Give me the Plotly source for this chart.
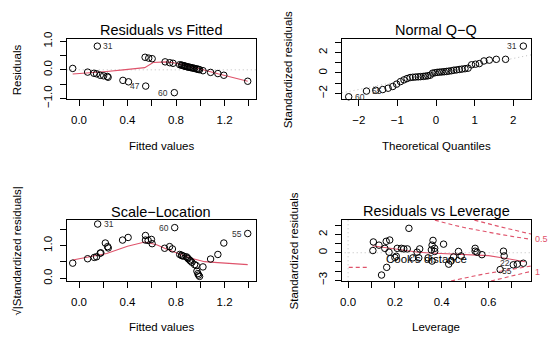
import plotly.graph_objects as go

# ---------------- data ----------------
# Panel 1: Residuals vs Fitted
fitted = [-0.052, 0.071, 0.123, 0.145, 0.175, 0.203, 0.233, 0.240, 0.362, 0.408, 0.550, 0.786,
          0.151, 0.545, 0.575, 0.603, 0.710, 0.748, 0.775,
          0.830, 0.845, 0.852, 0.862, 0.870, 0.876, 0.885, 0.893, 0.900, 0.912, 0.920, 0.931,
          0.942, 0.953, 0.967, 0.975, 0.986, 0.994, 1.022,
          1.085, 1.145, 1.194, 1.391]
residuals = [0.05, -0.08, -0.12, -0.14, -0.19, -0.21, -0.23, -0.26, -0.37, -0.42, -0.57, -0.80,
             0.83, 0.44, 0.41, 0.39, 0.28, 0.25, 0.23,
             0.18, 0.165, 0.155, 0.145, 0.135, 0.125, 0.115, 0.105, 0.10, 0.09, 0.08, 0.07,
             0.06, 0.05, 0.035, 0.025, 0.015, 0.005, -0.03,
             -0.09, -0.13, -0.19, -0.40]
rf_smooth_x = [-0.052, 0.09, 0.228, 0.364, 0.542, 0.611, 0.72, 0.80, 0.90, 1.00, 1.145, 1.391]
rf_smooth_y = [-0.144, -0.111, -0.056, 0.0, 0.078, 0.256, 0.278, 0.23, 0.14, 0.03, -0.14, -0.40]
rf_labels = [("31", 0.151, 0.83, "left"), ("47", 0.550, -0.57, "right"), ("60", 0.786, -0.80, "right")]

# Panel 2: Normal Q-Q
qq_theoretical = [-2.26, -1.80, -1.56, -1.38, -1.24, -1.12, -1.02, -0.92, -0.83, -0.75,
                  -0.67, -0.60, -0.53, -0.46, -0.40, -0.33, -0.27, -0.21, -0.15, -0.09,
                  -0.03, 0.03, 0.09, 0.15, 0.21, 0.27, 0.33, 0.40, 0.46, 0.53,
                  0.60, 0.67, 0.75, 0.83, 0.92, 1.02, 1.12, 1.24, 1.38, 1.56, 1.80, 2.26]
qq_std_resid = [-2.34, -1.78, -1.70, -1.63, -1.50, -1.33, -1.10, -0.85, -0.68, -0.55,
                -0.45, -0.42, -0.40, -0.38, -0.36, -0.34, -0.31, -0.28, -0.22, -0.02,
                0.02, 0.06, 0.08, 0.10, 0.12, 0.15, 0.18, 0.22, 0.27, 0.30,
                0.34, 0.38, 0.42, 0.47, 0.80, 0.86, 0.92, 1.18, 1.26, 1.34, 1.34, 2.64]
qq_line_x = [-2.44, 2.46]
qq_line_y = [-1.96, 1.78]
qq_labels = [("60", -2.26, -2.34, "left"), ("55", -1.80, -1.78, "left"), ("31", 2.26, 2.64, "right")]

# Panel 3: Scale-Location
sl_fitted = [-0.052, 0.071, 0.126, 0.145, 0.154, 0.175, 0.180, 0.217, 0.236, 0.241,
             0.359, 0.405, 0.548, 0.548, 0.570, 0.597, 0.603, 0.706, 0.747, 0.770, 0.789,
             0.830, 0.845, 0.850, 0.862, 0.885, 0.893, 0.900, 0.912, 0.920, 0.931,
             0.953, 0.967, 0.972, 0.980, 0.986, 0.994, 1.022, 1.085, 1.145, 1.194, 1.391]
sl_sqrt_std = [0.465, 0.60, 0.64, 0.66, 1.66, 0.77, 0.78, 1.08, 0.97, 0.93,
               1.17, 1.25, 1.31, 1.17, 1.16, 1.19, 1.06, 0.92, 0.97, 0.90, 1.55,
               0.73, 0.71, 0.69, 0.68, 0.66, 0.63, 0.60, 0.56, 0.53, 0.49,
               0.42, 0.39, 0.22, 0.145, 0.10, 0.06, 0.35, 0.59, 0.73, 1.08, 1.37]
sl_smooth_x = [-0.052, 0.228, 0.40, 0.542, 0.64, 0.72, 0.91, 1.035, 1.145, 1.391]
sl_smooth_y = [0.56, 0.76, 0.98, 1.11, 1.03, 0.90, 0.63, 0.51, 0.48, 0.42]
sl_labels = [("31", 0.154, 1.66, "left"), ("60", 0.789, 1.55, "right"), ("55", 1.391, 1.37, "right")]

# Panel 4: Residuals vs Leverage
leverage = [0.108, 0.106, 0.132, 0.163, 0.178, 0.157, 0.175, 0.143, 0.200, 0.206,
            0.210, 0.228, 0.238, 0.253, 0.260, 0.277, 0.295, 0.302, 0.306, 0.342,
            0.356, 0.359, 0.363, 0.359, 0.370, 0.370, 0.408, 0.430, 0.440, 0.451,
            0.472, 0.483, 0.543, 0.543, 0.551, 0.572, 0.664, 0.667, 0.650, 0.706,
            0.723, 0.749, 0.165]
lev_std_resid = [1.18, 0.24, 0.83, 1.25, 1.39, 0.48, 0.06, -2.44, -0.52, -0.39,
                 0.48, 0.48, 0.42, 0.42, 2.67, -0.56, 0.06, -0.56, 0.42, -0.56,
                 0.31, 0.83, 1.35, -0.91, 0.14, 0.48, 0.94, -1.25, -0.91, -0.46,
                 0.14, -0.35, 0.48, 0.17, 0.06, -0.21, 0.17, -0.35, -1.84, -1.32,
                 -1.25, -1.15, -1.60]
lev_smooth_x = [0.104, 0.15, 0.20, 0.25, 0.30, 0.35, 0.416, 0.45, 0.543, 0.60, 0.65, 0.70, 0.756]
lev_smooth_y = [0.76, 0.60, 0.42, 0.22, 0.06, -0.03, -0.10, -0.12, -0.18, -0.32, -0.52, -0.74, -0.98]
cook05_h = [0.371, 0.40, 0.45, 0.50, 0.55, 0.60, 0.65, 0.70, 0.75, 0.782]
cook05_r = [3.57, 3.35, 3.03, 2.74, 2.48, 2.24, 2.01, 1.79, 1.58, 1.46]
cook1_h = [0.54, 0.55, 0.60, 0.65, 0.70, 0.75, 0.782]
cook1_r = [3.57, 3.50, 3.16, 2.84, 2.54, 2.24, 2.04]
cook_low05_h = [0.44, 0.45, 0.50, 0.55, 0.60, 0.65, 0.70, 0.75, 0.782]
cook_low05_r = [-3.09, -3.03, -2.74, -2.48, -2.24, -2.01, -1.79, -1.58, -1.46]
cook_low1_h = [0.611, 0.65, 0.70, 0.75, 0.782]
cook_low1_r = [-3.09, -2.84, -2.54, -2.24, -2.04]
lev_labels = [("22", 0.672, -1.12), ("55", 0.680, -1.98)]
cook_side_labels = [("0.5", 1.46), ("1", -2.06)]

# ---------------- styling / layout ----------------
W, H = 550, 348
FONT = "Liberation Sans, Arial, sans-serif"
RED = "#DF536B"
GRAY = "#BEBEBE"
MINUS = "\u2212"


def fx(p):
    return p / W


def fy(p):
    return 1 - p / H


fig = go.Figure()


def points(x, y, xa, ya):
    fig.add_trace(go.Scatter(x=x, y=y, mode="markers", xaxis=xa, yaxis=ya, showlegend=False,
                             hoverinfo="skip", cliponaxis=False,
                             marker=dict(symbol="circle-open", size=6.5, color="black",
                                         line=dict(width=1, color="black"))))


def line(x, y, xa, ya, color=RED, dash="solid", width=1.1):
    fig.add_trace(go.Scatter(x=x, y=y, mode="lines", xaxis=xa, yaxis=ya, showlegend=False,
                             hoverinfo="skip", line=dict(color=color, width=width, dash=dash)))


def lab(t, x, y, xa, ya, side, size=8.5, color="#333333"):
    fig.add_annotation(x=x, y=y, xref=xa, yref=ya, text=t, showarrow=False,
                       xanchor=side, yanchor="middle", xshift=(4 if side == "left" else -4),
                       font=dict(family=FONT, size=size, color=color))


# panel 1
line([-0.2, 1.6], [0, 0], "x", "y", color=GRAY, dash="1px,3px", width=1)
line(rf_smooth_x, rf_smooth_y, "x", "y")
points(fitted, residuals, "x", "y")
for t, x, y, s in rf_labels:
    lab(t, x, y, "x", "y", s)

# panel 2
line(qq_line_x, qq_line_y, "x2", "y2", color=GRAY, dash="1px,3px", width=1)
points(qq_theoretical, qq_std_resid, "x2", "y2")
for t, x, y, s in qq_labels:
    lab(t, x, y, "x2", "y2", s)

# panel 3
line(sl_smooth_x, sl_smooth_y, "x3", "y3")
points(sl_fitted, sl_sqrt_std, "x3", "y3")
for t, x, y, s in sl_labels:
    lab(t, x, y, "x3", "y3", s)

# panel 4
line([-0.1, 0.9], [0, 0], "x4", "y4", color=GRAY, dash="1px,3px", width=1)
line([0, 0], [-4, 4], "x4", "y4", color=GRAY, dash="1px,3px", width=1)
line(lev_smooth_x, lev_smooth_y, "x4", "y4")
for hx, ry in [(cook05_h, cook05_r), (cook1_h, cook1_r),
               (cook_low05_h, cook_low05_r), (cook_low1_h, cook_low1_r)]:
    line(hx, ry, "x4", "y4", dash="4px,3px", width=1.1)
points(leverage, lev_std_resid, "x4", "y4")
for t, x, y in lev_labels:
    fig.add_annotation(x=x, y=y, xref="x4", yref="y4", text=t, showarrow=False,
                       font=dict(family=FONT, size=8.5, color="#333333"))
for t, y in cook_side_labels:
    fig.add_annotation(x=fx(533), y=y, xref="paper", yref="y4", text=t, showarrow=False,
                       xanchor="left", font=dict(family=FONT, size=9, color=RED))
# legend of Cook's distance
fig.add_shape(type="line", xref="paper", yref="paper", x0=fx(348), x1=fx(368),
              y0=fy(272.7), y1=fy(272.7), line=dict(color=RED, width=1.1, dash="4px,3px"))
fig.add_annotation(x=fx(383), y=fy(272.7), xref="paper", yref="paper", text="Cook's distance",
                   showarrow=False, xanchor="left", font=dict(family=FONT, size=11.5, color="black"))

# boxes / axes
P1X = [fx(65), fx(255)]
P2X = [fx(341), fx(531)]
TOPY = [fy(96), fy(33)]
BOTY = [fy(287), fy(223)]


def ax(domain, rng, vals, texts, anchor, is_y):
    d = dict(domain=domain, range=rng, tickvals=vals, ticktext=texts, anchor=anchor,
             showline=True, mirror=True, linecolor="black", linewidth=1,
             ticks="outside", ticklen=6, tickwidth=1, tickcolor="black",
             showgrid=False, zeroline=False, fixedrange=True,
             tickfont=dict(family=FONT, size=11.5, color="black"))
    if is_y:
        d["tickangle"] = -90
        d["ticklabelstandoff"] = 3
    else:
        d["ticklabelstandoff"] = 4
    return d


fx_vals = [0.0, 0.2, 0.4, 0.6, 0.8, 1.0, 1.2, 1.4]
fx_text = ["0.0", "", "0.4", "", "0.8", "", "1.2", ""]

fig.update_layout(
    width=W, height=H, margin=dict(l=0, r=0, t=0, b=0),
    paper_bgcolor="white", plot_bgcolor="white", showlegend=False,
    xaxis=ax(P1X, [-0.101, 1.46], fx_vals, fx_text, "y", False),
    yaxis=ax(TOPY, [-1.033, 1.067], [-1.0, -0.5, 0.0, 0.5, 1.0],
             [MINUS + "1.0", "", "0.0", "", "1.0"], "x", True),
    xaxis2=ax(P2X, [-2.44, 2.46], [-2, -1, 0, 1, 2], [MINUS + "2", MINUS + "1", "0", "1", "2"], "y2", False),
    yaxis2=ax(TOPY, [-2.59, 3.3], [-2, -1, 0, 1, 2, 3], [MINUS + "2", "", "0", "", "2", ""], "x2", True),
    xaxis3=ax(P1X, [-0.101, 1.46], fx_vals, fx_text, "y3", False),
    yaxis3=ax(BOTY, [-0.08, 1.78], [0.0, 0.5, 1.0, 1.5], ["0.0", "", "1.0", ""], "x3", True),
    xaxis4=ax(P2X, [-0.027, 0.782], [0.0, 0.1, 0.2, 0.3, 0.4, 0.5, 0.6, 0.7],
              ["0.0", "", "0.2", "", "0.4", "", "0.6", ""], "y4", False),
    yaxis4=ax(BOTY, [-3.09, 3.57], [-3, -2, -1, 0, 1, 2, 3],
              [MINUS + "3", "", "", "0", "", "2", ""], "x4", True),
)


def txt(t, x, y, size, angle=0):
    fig.add_annotation(x=fx(x), y=fy(y), xref="paper", yref="paper", text=t, showarrow=False,
                       textangle=angle, xanchor="center", yanchor="middle",
                       font=dict(family=FONT, size=size, color="black"))


# titles
txt("Residuals vs Fitted", 160, 23, 14.5)
txt("Normal Q" + MINUS + "Q", 436, 23, 14.5)
txt("Scale" + MINUS + "Location", 160, 215, 14.5)
txt("Residuals vs Leverage", 436, 213, 14.5)
# axis titles
txt("Fitted values", 160, 145, 11.5)
txt("Theoretical Quantiles", 436, 145, 11.5)
txt("Fitted values", 160, 335.5, 11.5)
txt("Leverage", 436, 335.5, 11.5)
txt("Residuals", 15, 64.5, 11.5, -90)
txt("Standardized residuals", 287, 64.5, 11.5, -90)
txt("\u221A|Standardized residuals|", 15, 255, 11.5, -90)
txt("Standardized residuals", 293, 255, 11.5, -90)

fig.write_html("out.html", config={"displayModeBar": False, "staticPlot": True},
               post_script="document.body.style.margin='0';document.body.style.padding='0';"
                           "document.body.style.overflow='hidden';")
